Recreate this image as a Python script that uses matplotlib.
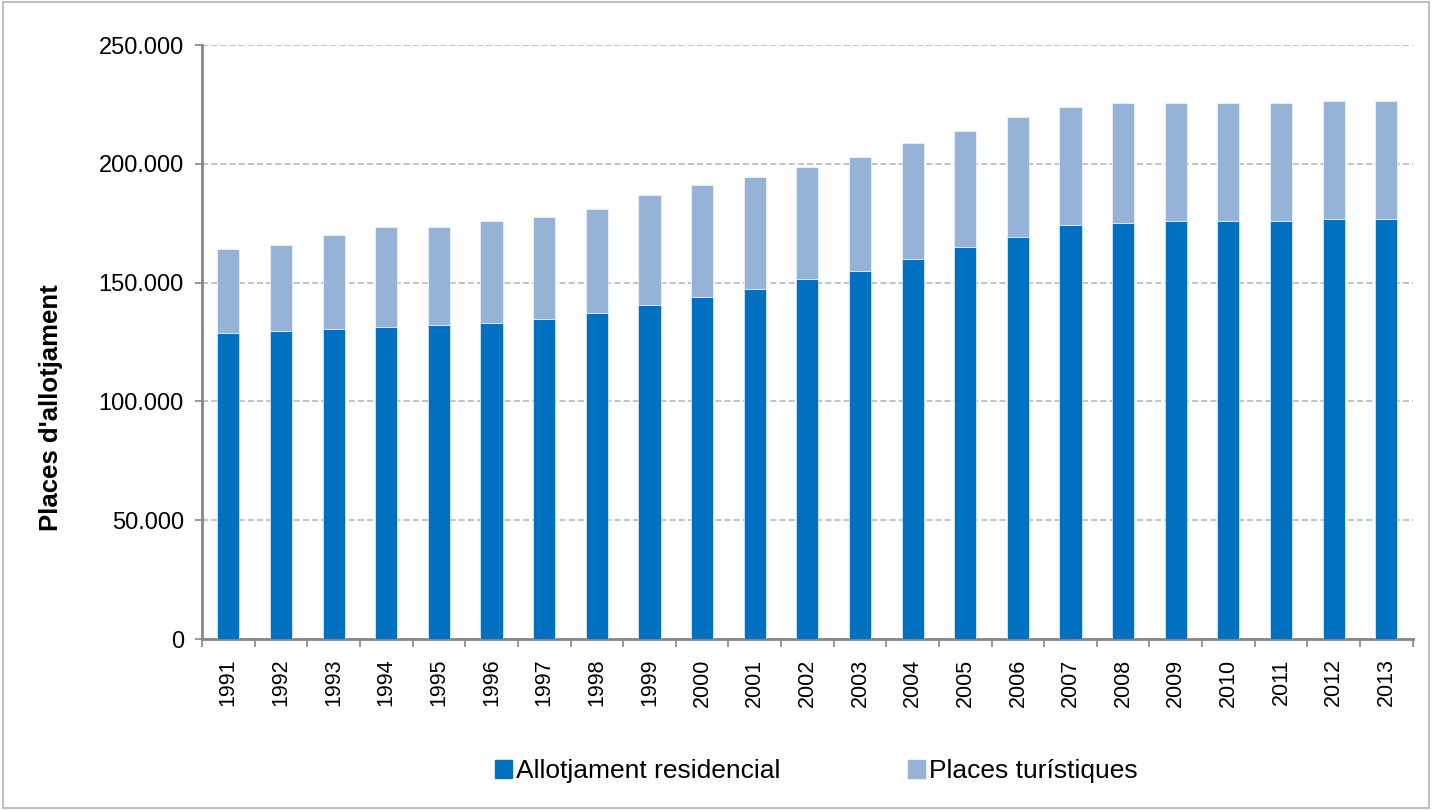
import matplotlib.pyplot as plt
from matplotlib.patches import Patch, Rectangle
from matplotlib.ticker import FuncFormatter

plt.rcParams['font.family'] = ['Liberation Sans', 'DejaVu Sans']

years = [str(y) for y in range(1991, 2014)]
residencial = [128.7, 129.5, 130.3, 131.2, 132.0, 132.9, 134.6, 137.1, 140.5, 143.8,
               147.2, 151.4, 154.8, 159.8, 164.9, 169.1, 174.2, 175.0, 175.9, 175.9,
               175.9, 176.7, 176.7]
total = [164.1, 165.7, 170.0, 173.3, 173.3, 175.9, 177.5, 180.9, 186.8, 191.0,
         194.4, 198.6, 202.8, 208.7, 213.8, 219.7, 223.9, 225.6, 225.6, 225.6,
         225.6, 226.4, 226.4]
residencial = [v * 1000 for v in residencial]
turistiques = [t * 1000 - r for t, r in zip(total, residencial)]

dark = '#0070C0'
light = '#95B3D7'
axis_col = '#868686'

fig = plt.figure(figsize=(14.32, 8.10), dpi=100)
ax = fig.add_axes([0.1411, 0.2111, 0.9865 - 0.1411, 0.9444 - 0.2111])

x = range(len(years))
ax.bar(x, residencial, width=0.42, color=dark, edgecolor='white', linewidth=0.4, zorder=3)
ax.bar(x, turistiques, width=0.42, bottom=residencial, color=light,
       edgecolor='white', linewidth=0.4, zorder=3)

ax.set_xlim(-0.5, len(years) - 0.5)
ax.set_ylim(0, 250000)
ax.set_yticks(range(0, 250001, 50000))
ax.yaxis.set_major_formatter(FuncFormatter(lambda v, p: f'{int(v):,}'.replace(',', '.')))
ax.grid(axis='y', color='#b3b3b3', linestyle=(0, (4, 2)), linewidth=1.1, zorder=0)

ax.set_xticks([i for i in x])
ax.set_xticklabels(years, rotation=90, fontsize=15.5)
ax.set_xticks([i - 0.5 for i in range(len(years) + 1)], minor=True)
ax.tick_params(axis='x', which='major', length=0, pad=14)
ax.tick_params(axis='x', which='minor', length=6, width=1.2, color=axis_col)
ax.tick_params(axis='y', length=5, width=1.2, color=axis_col, labelsize=17, pad=8)

for side in ['top', 'right']:
    ax.spines[side].set_visible(False)
for side in ['left', 'bottom']:
    ax.spines[side].set_color(axis_col)
    ax.spines[side].set_linewidth(2)

ax.set_ylabel("Places d'allotjament", fontsize=18.5, fontweight='bold')
ax.yaxis.set_label_coords(-0.115, 0.389)

handles = [Patch(color=dark, label='Allotjament residencial'),
           Patch(color=light, label='Places turístiques')]
fig.legend(handles=handles, loc='center', bbox_to_anchor=(0.57, 0.048), ncol=2,
           frameon=False, fontsize=19, handlelength=0.64, handleheight=0.64,
           handletextpad=0.15, columnspacing=4.85)

fig.patches.append(Rectangle((0.002, 0.002), 0.996, 0.996, transform=fig.transFigure,
                             fill=False, edgecolor='#bfbfbf', linewidth=1.5))

fig.savefig('out.png', dpi=100)
